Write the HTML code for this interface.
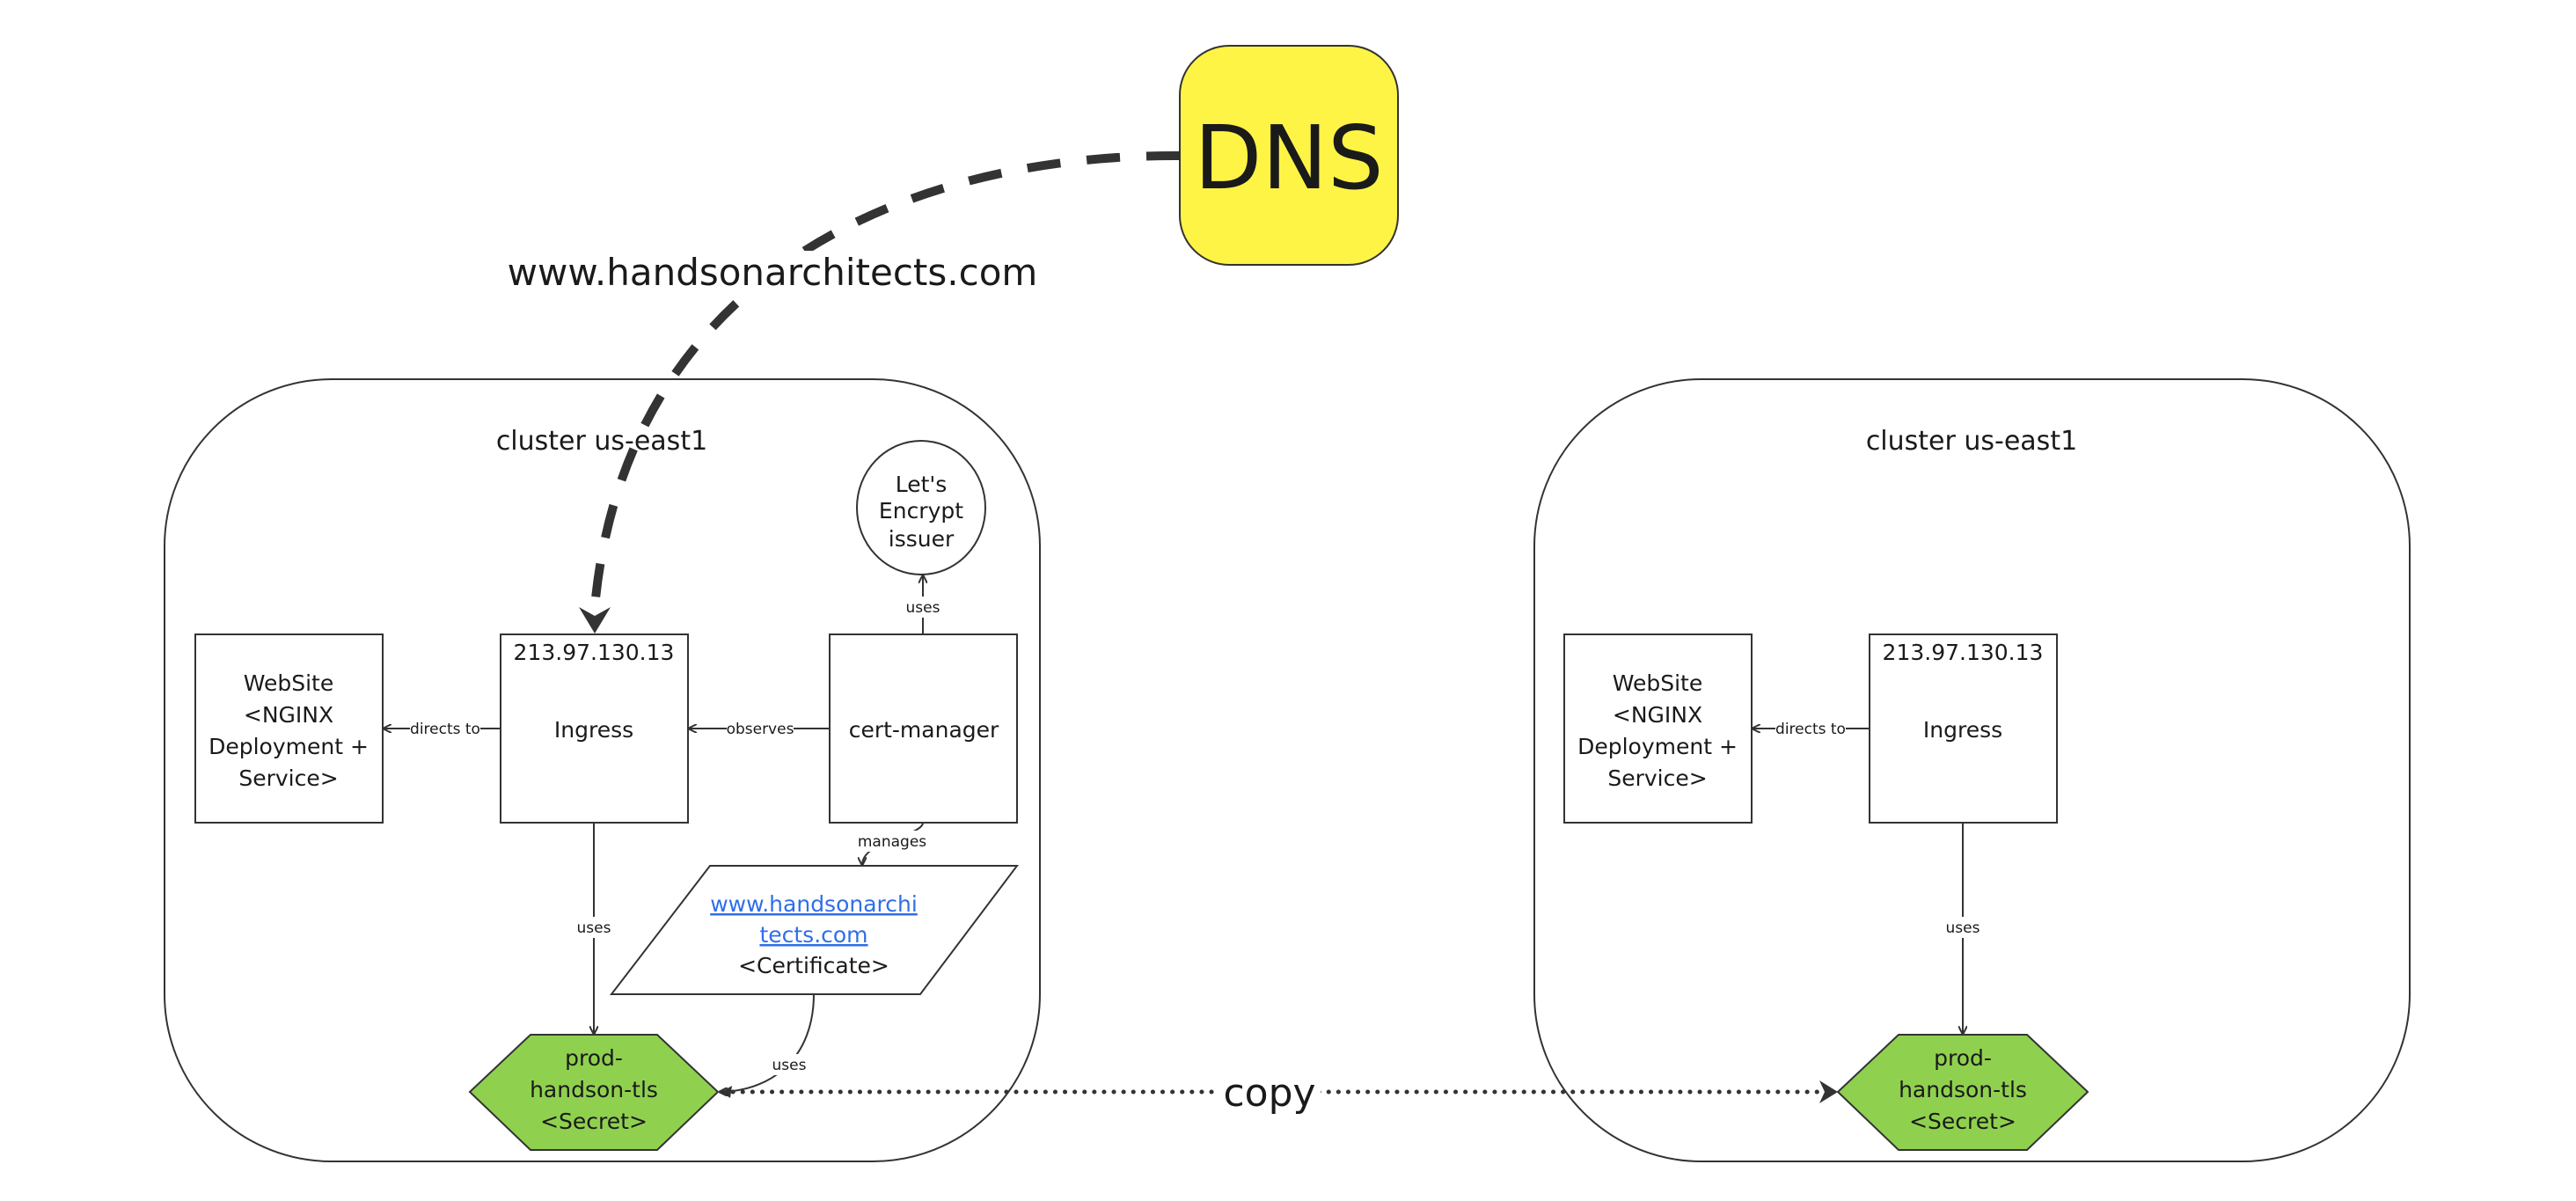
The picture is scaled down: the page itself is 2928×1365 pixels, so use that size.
<!DOCTYPE html>
<html><head><meta charset="utf-8"><style>
html,body{margin:0;padding:0;background:#fff;width:2928px;height:1365px;overflow:hidden}
svg text{font-family:"DejaVu Sans","Liberation Sans",sans-serif;fill:#1a1a1a}
</style></head><body>
<svg width="2928" height="1365" viewBox="0 0 2928 1365" xmlns="http://www.w3.org/2000/svg">
<defs>
<marker id="a" markerWidth="10" markerHeight="10" refX="9" refY="5" orient="auto" markerUnits="userSpaceOnUse"><path d="M0,0 L10,5 L0,10" fill="none" stroke="#333" stroke-width="2"/></marker>
</defs>
<rect x="187" y="431" width="995" height="889" rx="190" fill="none" stroke="#333" stroke-width="2"/>
<rect x="1744" y="431" width="995" height="889" rx="190" fill="none" stroke="#333" stroke-width="2"/>
<text x="684" y="511" font-size="30" text-anchor="middle">cluster us-east1</text>
<text x="2241" y="511" font-size="30" text-anchor="middle">cluster us-east1</text>
<rect x="1341" y="52" width="248" height="249" rx="56" fill="#FEF445" stroke="#333" stroke-width="2"/>
<text x="1465" y="214" font-size="100" text-anchor="middle">DNS</text>
<path d="M1341,177 C1020,175 710,320 676,690" fill="none" stroke="#333" stroke-width="10" stroke-dasharray="38,30"/>
<path d="M658,690 L676,720 L694,690 L676,700 Z" fill="#333"/>
<rect x="575" y="285" width="610" height="50" fill="#fff"/>
<text x="878" y="324" font-size="42" text-anchor="middle">www.handsonarchitects.com</text>
<g fill="#fff" stroke="#333" stroke-width="2">
<rect x="222" y="721" width="213" height="214"/>
<rect x="569" y="721" width="213" height="214"/>
<rect x="943" y="721" width="213" height="214"/>
<ellipse cx="1047" cy="577" rx="73" ry="76"/>
<polygon points="807,984 1156,984 1046,1130 695,1130"/>
<polygon points="603,1176 747,1176 816,1241 747,1307 603,1307 534,1241" fill="#8FD14F"/>
<rect x="1778" y="721" width="213" height="214"/>
<rect x="2125" y="721" width="213" height="214"/>
<polygon points="2158,1176 2304,1176 2373,1241 2304,1307 2158,1307 2089,1241" fill="#8FD14F"/>
</g>
<g font-size="25" text-anchor="middle">
<text x="328" y="785">WebSite</text><text x="328" y="821">&lt;NGINX</text><text x="328" y="857">Deployment +</text><text x="328" y="893">Service&gt;</text>
<text x="675" y="750">213.97.130.13</text><text x="675" y="838">Ingress</text>
<text x="1050" y="838">cert-manager</text>
<text x="1047" y="559">Let's</text><text x="1047" y="589">Encrypt</text><text x="1047" y="621">issuer</text>
<text x="925" y="1036" style="fill:#2f6fe8" text-decoration="underline">www.handsonarchi</text>
<text x="925" y="1071" style="fill:#2f6fe8" text-decoration="underline">tects.com</text>
<text x="925" y="1106">&lt;Certificate&gt;</text>
<text x="675" y="1211">prod-</text><text x="675" y="1247">handson-tls</text><text x="675" y="1283">&lt;Secret&gt;</text>
<text x="1884" y="785">WebSite</text><text x="1884" y="821">&lt;NGINX</text><text x="1884" y="857">Deployment +</text><text x="1884" y="893">Service&gt;</text>
<text x="2231" y="750">213.97.130.13</text><text x="2231" y="838">Ingress</text>
<text x="2231" y="1211">prod-</text><text x="2231" y="1247">handson-tls</text><text x="2231" y="1283">&lt;Secret&gt;</text>
</g>
<g stroke="#333" stroke-width="2" fill="none">
<line x1="569" y1="828" x2="436" y2="828" marker-end="url(#a)"/>
<line x1="943" y1="828" x2="783" y2="828" marker-end="url(#a)"/>
<line x1="1049" y1="721" x2="1049" y2="654" marker-end="url(#a)"/>
<path d="M1049,935 C1049,950 980,955 980,983" marker-end="url(#a)"/>
<line x1="675" y1="935" x2="675" y2="1175" marker-end="url(#a)"/>
<path d="M925,1130 C925,1200 880,1240 818,1241" marker-end="url(#a)"/>
<line x1="2125" y1="828" x2="1992" y2="828" marker-end="url(#a)"/>
<line x1="2231" y1="935" x2="2231" y2="1175" marker-end="url(#a)"/>
</g>
<g font-size="17" text-anchor="middle">
<rect x="466" y="816" width="80" height="24" fill="#fff"/><text x="506" y="834">directs to</text>
<rect x="826" y="816" width="76" height="24" fill="#fff"/><text x="864" y="834">observes</text>
<rect x="1030" y="678" width="38" height="24" fill="#fff"/><text x="1049" y="696">uses</text>
<rect x="974" y="944" width="80" height="24" fill="#fff"/><text x="1014" y="962">manages</text>
<rect x="654" y="1042" width="42" height="24" fill="#fff"/><text x="675" y="1060">uses</text>
<rect x="876" y="1198" width="42" height="24" fill="#fff"/><text x="897" y="1216">uses</text>
<rect x="2018" y="816" width="80" height="24" fill="#fff"/><text x="2058" y="834">directs to</text>
<rect x="2210" y="1042" width="42" height="24" fill="#fff"/><text x="2231" y="1060">uses</text>
</g>
<line x1="822" y1="1241" x2="2070" y2="1241" stroke="#333" stroke-width="5" stroke-dasharray="0.1,11" stroke-linecap="round"/>
<path d="M2068,1228 L2089,1241 L2068,1254 L2074,1241 Z" fill="#333"/>
<path d="M820,1241 L832,1234 L830,1248 Z" fill="#333"/>
<rect x="1385" y="1213" width="116" height="56" fill="#fff"/>
<text x="1443" y="1257" font-size="44" text-anchor="middle">copy</text>
</svg>
</body></html>
